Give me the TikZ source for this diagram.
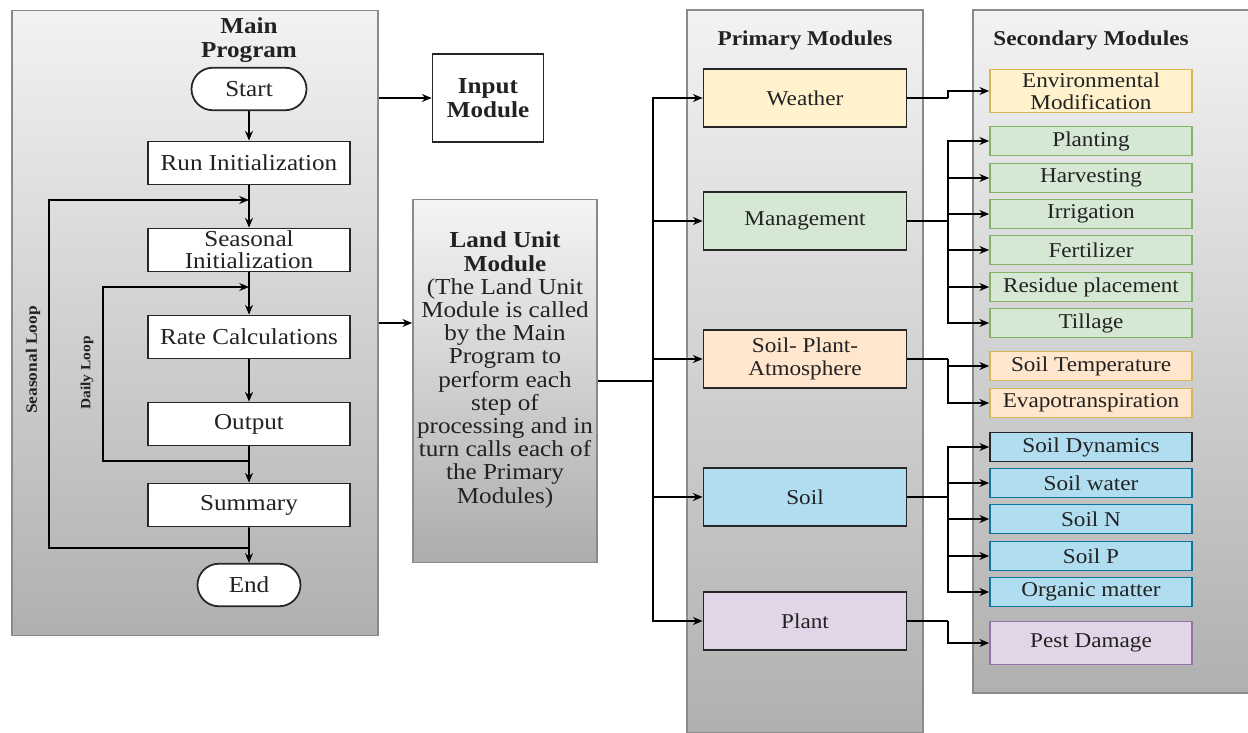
\documentclass[tikz,border=0pt]{standalone}
\usepackage{fontspec}
\setmainfont{Liberation Serif}[FakeStretch=1.1]
\usepackage{tikz}
\usetikzlibrary{shapes.misc}
\usetikzlibrary{arrows.meta}
\definecolor{panelline}{HTML}{8A8A8A}
\definecolor{yelfill}{HTML}{FFF2CC}
\definecolor{yelline}{HTML}{D6B656}
\definecolor{grnfill}{HTML}{D5E8D4}
\definecolor{grnline}{HTML}{82B366}
\definecolor{orgfill}{HTML}{FFE6CC}
\definecolor{bluefill}{HTML}{B1DDF0}
\definecolor{blueline}{HTML}{10739E}
\definecolor{purfill}{HTML}{E1D5E7}
\definecolor{purline}{HTML}{9673A6}
\definecolor{inktext}{HTML}{222222}

\begin{document}
\begin{tikzpicture}[x=0.02cm,y=-0.02cm,>={Stealth[length=5.5pt,width=4.5pt]},line width=1pt,
	panel/.style={draw=panelline,top color=gray!10,bottom color=gray!62,inner sep=0pt},
	ptitle/.style={font=\fontsize{12}{13}\selectfont\bfseries,text=inktext},
	mtitle/.style={font=\fontsize{13}{14}\selectfont\bfseries,text=inktext,align=center},
	stepbox/.style={draw=black!85,fill=white,minimum width=4.04cm,minimum height=0.86cm,inner sep=0pt,align=center,font=\fontsize{13}{12.5}\selectfont,text=inktext},
	termbox/.style={rounded rectangle,draw=black!85,fill=white,minimum height=0.85cm,inner sep=0pt,font=\fontsize{13}{14}\selectfont,text=inktext},
	looplabel/.style={rotate=90,font=\bfseries,text=inktext},
	primbox/.style={draw=black!85,minimum width=4.06cm,minimum height=1.16cm,inner sep=0pt,align=center,font=\fontsize{12}{13}\selectfont,text=inktext},
	secbox/.style={minimum width=4.04cm,minimum height=0.58cm,inner sep=0pt,align=center,font=\fontsize{12}{12.5}\selectfont,text=inktext}
]
	\useasboundingbox (0,0) rectangle (1248,733);
	\node[panel,minimum width=7.32cm,minimum height=12.5cm] (mainpanel) at (195,323) {};
	\node[panel,minimum width=4.72cm,minimum height=14.46cm] (primpanel) at (805,371.5) {};
	\node[panel,minimum width=5.54cm,minimum height=13.66cm] (secpanel) at (1111.5,351.5) {};

	\node[mtitle] (maintitle) at (249,40) {Main\\Program};
	\node[termbox,minimum width=2.3cm] (start) at (249,89) {Start};
	\node[stepbox] (runinit) at (249,163) {Run Initialization};
	\node[stepbox] (seasinit) at (249,250) {Seasonal\\Initialization};
	\node[stepbox] (rate) at (249,337) {Rate Calculations};
	\node[stepbox] (output) at (249,424) {Output};
	\node[stepbox] (summary) at (249,505) {Summary};
	\node[termbox,minimum width=2.06cm] (end) at (249,585) {End};
	\node[looplabel,font=\fontsize{9}{10}\selectfont\bfseries] (seaslabel) at (33,360) {Seasonal Loop};
	\node[looplabel,font=\fontsize{8}{9}\selectfont\bfseries] (dailylabel) at (87,373) {Daily Loop};

	\draw[->] (start) -- (runinit);
	\draw[->] (runinit) -- (seasinit);
	\draw[->] (seasinit) -- (rate);
	\draw[->] (rate) -- (output);
	\draw[->] (output) -- (summary);
	\draw[->] (summary) -- (end);
	\coordinate (seastop) at (249,200);
	\coordinate (seasbot) at (249,548);
	\coordinate (dailytop) at (249,287);
	\coordinate (dailybot) at (249,461);
	\draw[->] (seasbot) -- ++(-200,0) |- (seastop);
	\draw[->] (dailybot) -- ++(-146,0) |- (dailytop);

	\node[draw=black!85,fill=white,minimum width=2.22cm,minimum height=1.76cm,mtitle] (input) at (488,98) {Input\\Module};
	\draw[->] (mainpanel.east |- input) -- (input);

	\node[draw=panelline,top color=gray!8,bottom color=gray!65,minimum width=3.68cm,minimum height=7.26cm] (land) at (505,381) {};
	\node[align=center,font=\fontsize{13}{13.2}\selectfont,text=inktext] (landtext) at (505,370) {\textbf{Land Unit}\\\textbf{Module}\\(The Land Unit\\Module is called\\by the Main\\Program to\\perform each\\step of\\processing and in\\turn calls each of\\the Primary\\Modules)};
	\draw[->] (mainpanel.east) -- (mainpanel.east -| land.west);

	\node[ptitle] (primtitle) at (805,40) {Primary Modules};
	\node[primbox,fill=yelfill] (weather) at (805,98) {Weather};
	\node[primbox,fill=grnfill] (management) at (805,221) {Management};
	\node[primbox,fill=orgfill,font=\fontsize{12}{13.5}\selectfont] (spa) at (805,359) {Soil- Plant-\\Atmosphere};
	\node[primbox,fill=bluefill] (soil) at (805,497) {Soil};
	\node[primbox,fill=purfill] (plant) at (805,621) {Plant};

	\draw (land.east) -- ++(55,0) coordinate (trunk);
	\foreach \m in {weather,management,spa,soil,plant}
		\draw[->] (trunk) |- (\m);

	\node[ptitle] (sectitle) at (1091,40) {Secondary Modules};
	\node[secbox,draw=yelline,fill=yelfill,minimum height=0.86cm] (envmod) at (1091,91) {Environmental\\Modification};
	\node[secbox,draw=grnline,fill=grnfill] (planting) at (1091,141) {Planting};
	\node[secbox,draw=grnline,fill=grnfill] (harvesting) at (1091,178) {Harvesting};
	\node[secbox,draw=grnline,fill=grnfill] (irrigation) at (1091,214) {Irrigation};
	\node[secbox,draw=grnline,fill=grnfill] (fertilizer) at (1091,250) {Fertilizer};
	\node[secbox,draw=grnline,fill=grnfill] (residue) at (1091,287) {Residue placement};
	\node[secbox,draw=grnline,fill=grnfill] (tillage) at (1091,323) {Tillage};
	\node[secbox,draw=yelline,fill=orgfill] (soiltemp) at (1091,366) {Soil Temperature};
	\node[secbox,draw=yelline,fill=orgfill] (evapo) at (1091,403) {Evapotranspiration};
	\node[secbox,draw=black!85,fill=bluefill] (soildyn) at (1091,447) {Soil Dynamics};
	\node[secbox,draw=blueline,fill=bluefill] (soilwater) at (1091,483) {Soil water};
	\node[secbox,draw=blueline,fill=bluefill] (soiln) at (1091,519) {Soil N};
	\node[secbox,draw=blueline,fill=bluefill] (soilp) at (1091,556) {Soil P};
	\node[secbox,draw=blueline,fill=bluefill] (organic) at (1091,592) {Organic matter};
	\node[secbox,draw=purline,fill=purfill,minimum height=0.86cm] (pest) at (1091,643) {Pest Damage};

	\draw (weather.east) -- ++(41,0) coordinate (wbranch);
	\draw[->] (wbranch) |- (envmod);
	\draw (management.east) -- ++(41,0) coordinate (mbranch);
	\foreach \s in {planting,harvesting,irrigation,fertilizer,residue,tillage}
		\draw[->] (mbranch) |- (\s);
	\draw (spa.east) -- ++(41,0) coordinate (abranch);
	\foreach \s in {soiltemp,evapo}
		\draw[->] (abranch) |- (\s);
	\draw (soil.east) -- ++(41,0) coordinate (sbranch);
	\foreach \s in {soildyn,soilwater,soiln,soilp,organic}
		\draw[->] (sbranch) |- (\s);
	\draw (plant.east) -- ++(41,0) coordinate (pbranch);
	\draw[->] (pbranch) |- (pest);
\end{tikzpicture}
\end{document}
